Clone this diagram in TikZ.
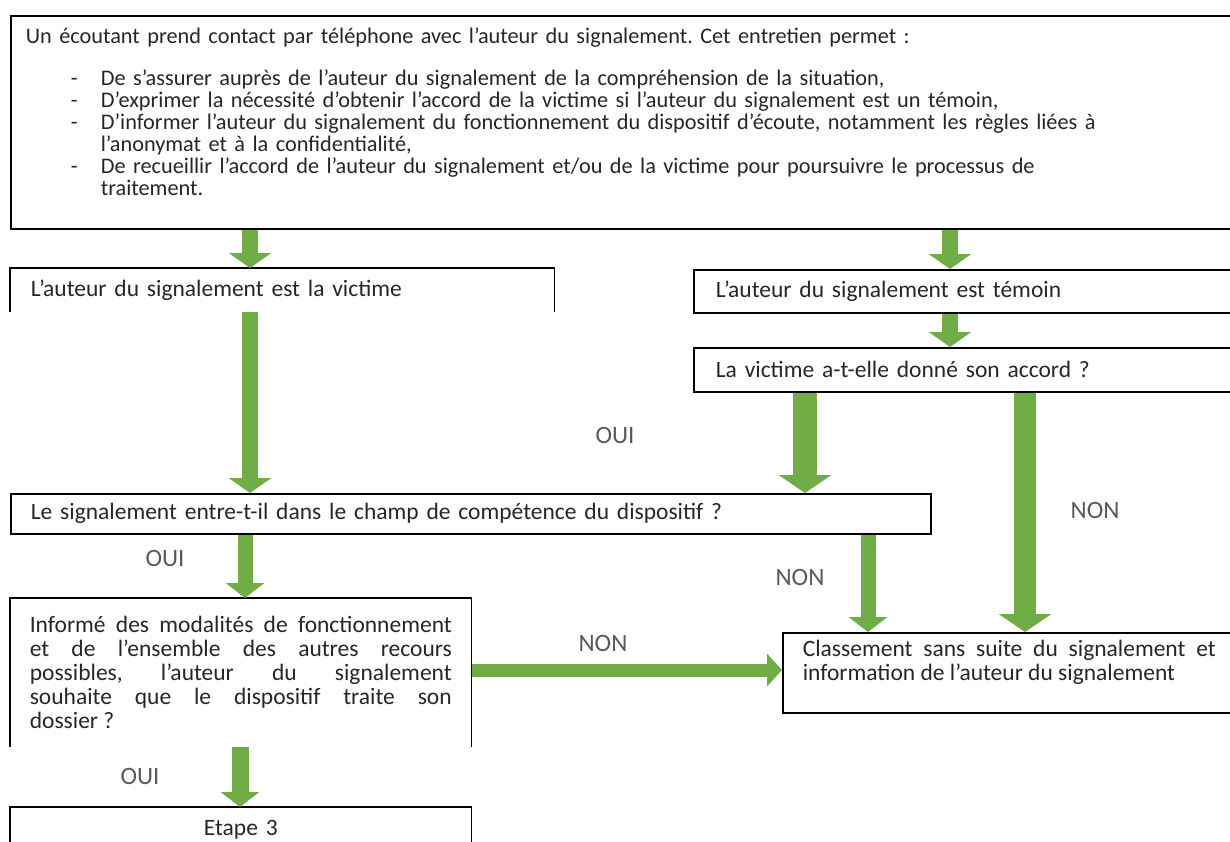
\documentclass[tikz,border=0pt]{standalone}
\usepackage{fontspec}
\setmainfont{Carlito}
\usetikzlibrary{arrows.meta}
\usetikzlibrary{positioning}
\usetikzlibrary{calc}
\definecolor{flowgreen}{HTML}{70AD47}
\definecolor{boxtext}{HTML}{262626}
\definecolor{labelgray}{HTML}{595959}
\frenchspacing

\begin{document}
\begin{tikzpicture}[x=1pt,y=-1pt,
	box/.style={draw=black, line width=1.6pt, anchor=north west, inner ysep=0pt, text=boxtext, font=\fontsize{23.5}{24}\selectfont},
	openbox/.style={box, draw=none},
	frame/.style={draw=black, line width=1.6pt},
	garrow/.style={draw=flowgreen, line width=16pt, -{Triangle[width=42pt,length=15pt]}},
	bigarrow/.style={draw=flowgreen, line width=24pt, -{Triangle[width=52pt,length=18pt]}},
	lbl/.style={text=labelgray, font=\fontsize{25}{27}\selectfont}]
	\useasboundingbox (0,0) rectangle (1230,842);
	% columns of the arrows
	\coordinate (colA) at (250,0);
	\coordinate (colB) at (950,0);
	\coordinate (colD) at (805,0);
	\coordinate (colE) at (1025,0);
	\coordinate (colG) at (245,0);
	\coordinate (colH) at (868,0);
	\coordinate (colJ) at (240,0);
	\coordinate (rowI) at (0,670);
	% first call
	\node[box, minimum width=1230pt, minimum height=213pt, text width=1200pt, inner xsep=15pt, align=left, font=\fontsize{22.3}{22}\selectfont] (appel) at (10,15) {Un écoutant prend contact par téléphone avec l’auteur du signalement. Cet entretien permet :\\[20pt]
		\hspace*{45pt}\makebox[30pt][l]{-}De s’assurer auprès de l’auteur du signalement de la compréhension de la situation,\\
		\hspace*{45pt}\makebox[30pt][l]{-}D’exprimer la nécessité d’obtenir l’accord de la victime si l’auteur du signalement est un témoin,\\
		\hspace*{45pt}\makebox[30pt][l]{-}D’informer l’auteur du signalement du fonctionnement du dispositif d’écoute, notamment les règles liées à\\
		\hspace*{75pt}l’anonymat et à la confidentialité,\\
		\hspace*{45pt}\makebox[30pt][l]{-}De recueillir l’accord de l’auteur du signalement et/ou de la victime pour poursuivre le processus de\\
		\hspace*{75pt}traitement.\\
		\mbox{}};
	% who reports
	\node[openbox, minimum width=543pt, minimum height=42pt, text width=503pt, inner xsep=20pt, align=left] (vict) at (10,268) {L’auteur du signalement est la victime};
	\draw[frame] (vict.south west) |- (vict.north) -| (vict.south east);
	\node[box, minimum width=547pt, minimum height=43pt, text width=503pt, inner xsep=22pt, align=left] (temoin) at (693,269) {L’auteur du signalement est témoin};
	\node[box, minimum width=547pt, minimum height=44pt, text width=503pt, inner xsep=22pt, align=left] (accord) at (693,347) {La victime a-t-elle donné son accord ?};
	% questions
	\node[box, minimum width=920pt, minimum height=40pt, text width=880pt, inner xsep=20pt, align=left] (signal) at (10,493) {Le signalement entre-t-il dans le champ de compétence du dispositif ?};
	\node[openbox, minimum width=460pt, minimum height=147pt, text width=422pt, inner xsep=19pt, align=justify] (informe) at (10,598) {Informé des modalités de fonctionnement\linebreak et de l’ensemble des autres recours\linebreak possibles, l’auteur du signalement\linebreak souhaite que le dispositif traite son\linebreak dossier ?};
	\draw[frame] (informe.south west) |- (informe.north) -| (informe.south east);
	\node[box, minimum width=453pt, minimum height=80pt, text width=413pt, inner xsep=20pt, align=justify] (classe) at (782,632) {Classement sans suite du signalement et\linebreak information de l’auteur du signalement\\ \mbox{}};
	\node[openbox, minimum width=460pt, minimum height=44pt, text width=420pt, inner xsep=20pt, align=center] (etape) at (10,807) {Etape 3};
	\draw[frame] (etape.south west) |- (etape.north) -| (etape.south east);
	% arrows
	\draw[garrow] (appel.south -| colA) -- (vict.north -| colA);
	\draw[garrow] (appel.south -| colB) -- (temoin.north -| colB);
	\draw[garrow] (temoin.south -| colB) -- (accord.north -| colB);
	\draw[garrow] (vict.south -| colA) -- (signal.north -| colA);
	\draw[bigarrow] (accord.south -| colD) -- (signal.north -| colD);
	\draw[bigarrow, line width=22pt] (accord.south -| colE) -- (classe.north -| colE);
	\draw[garrow, line width=15pt, -{Triangle[width=38pt,length=15pt]}] (signal.south -| colG) -- (informe.north -| colG);
	\draw[garrow, line width=15pt, -{Triangle[width=38pt,length=15pt]}] (signal.south -| colH) -- (classe.north -| colH);
	\draw[garrow, line width=13pt, -{Triangle[width=32pt,length=15pt]}] (informe.east |- rowI) -- (classe.west |- rowI);
	\draw[garrow, line width=17pt, -{Triangle[width=38pt,length=15pt]}] (informe.south -| colJ) -- (etape.north -| colJ);
	% answers
	\node[lbl] (oui1) at (615,435) {OUI};
	\node[lbl] (non1) at (1095,510) {NON};
	\node[lbl] (oui2) at (165,558) {OUI};
	\node[lbl] (non2) at (800,577) {NON};
	\node[lbl] (non3) at (603,643) {NON};
	\node[lbl] (oui3) at (140,776) {OUI};
\end{tikzpicture}
\end{document}
